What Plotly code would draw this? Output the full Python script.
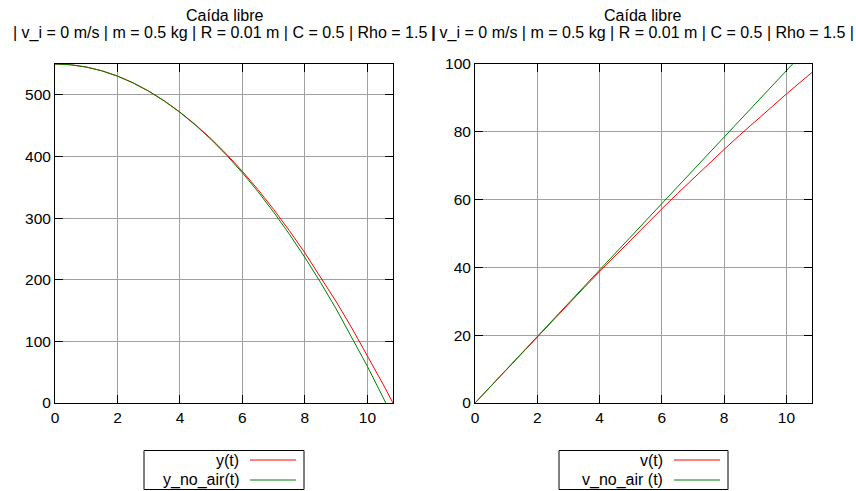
import plotly.graph_objects as go

# ---- data ----
t_y_air = [0, 0.5, 1, 1.5, 2, 2.5, 3, 3.5, 4, 4.5, 5, 5.5, 6, 6.5, 7, 7.5, 8, 8.5, 9, 9.5, 10, 10.5, 10.82]
y_air = [550, 548.77, 545.10, 538.97, 530.41, 519.42, 506.01, 490.20, 472.00, 451.44, 428.54, 403.32,
         375.81, 346.05, 314.06, 279.87, 243.52, 205.04, 164.48, 121.86, 77.2, 30.7, 0.0]

t_y_noair = [0, 0.5, 1, 1.5, 2, 2.5, 3, 3.5, 4, 4.5, 5, 5.5, 6, 6.5, 7, 7.5, 8, 8.5, 9, 9.5, 10, 10.5, 10.59]
y_noair = [550, 548.77, 545.10, 538.96, 530.38, 519.34, 505.86, 489.91, 471.52, 450.67, 427.38, 401.62,
           373.42, 342.76, 309.66, 274.09, 236.08, 195.62, 152.70, 107.33, 59.5, 9.24, 0.0]

t_v = [0, 0.5, 1, 1.5, 2, 2.5, 3, 3.5, 4, 4.5, 5, 5.5, 6, 6.5, 7, 7.5, 8, 8.5, 9, 9.5, 10, 10.5, 10.82]
v_air = [0, 4.90, 9.80, 14.69, 19.56, 24.41, 29.23, 34.01, 38.76, 43.47, 48.13, 52.73, 57.28, 61.77,
         66.19, 70.54, 74.82, 79.03, 83.16, 87.21, 91.17, 95.05, 97.50]
v_noair = [0, 4.91, 9.81, 14.72, 19.62, 24.53, 29.43, 34.34, 39.24, 44.15, 49.05, 53.96, 58.86, 63.77,
           68.67, 73.58, 78.48, 83.39, 88.29, 93.20, 98.1, 103.0, 106.1]

title_main = "Caída libre"
title_sub = "| v_i = 0 m/s | m = 0.5 kg | R = 0.01 m | C = 0.5 | Rho = 1.5 |"
legend_left = ["y(t)", "y_no_air(t)"]
legend_right = ["v(t)", "v_no_air (t)"]

RED = "#ff0000"
GREEN = "#008000"
W, H = 856, 491
FONT = "Liberation Sans, Arial, sans-serif"

# plotting region in pixels
L, R, T, B = 55, 812, 64, 403


def px(x):
    return (x - L) / (R - L)


def py(y):
    return (B - y) / (B - T)


fig = go.Figure()
fig.add_trace(go.Scatter(x=t_y_air, y=y_air, mode="lines", line=dict(color=RED, width=1),
                         xaxis="x", yaxis="y", showlegend=False))
fig.add_trace(go.Scatter(x=t_y_noair, y=y_noair, mode="lines", line=dict(color=GREEN, width=1),
                         xaxis="x", yaxis="y", showlegend=False))
fig.add_trace(go.Scatter(x=t_v, y=v_air, mode="lines", line=dict(color=RED, width=1),
                         xaxis="x2", yaxis="y2", showlegend=False))
fig.add_trace(go.Scatter(x=t_v, y=v_noair, mode="lines", line=dict(color=GREEN, width=1),
                         xaxis="x2", yaxis="y2", showlegend=False))

axcommon = dict(showline=True, linecolor="black", linewidth=1, mirror="allticks",
                ticks="inside", ticklen=8, tickcolor="black", tickwidth=1,
                showgrid=True, gridcolor="#a0a0a0", gridwidth=1, zeroline=False,
                automargin=False,
                tickfont=dict(family=FONT, size=15.5, color="black"))

fig.update_layout(
    width=W, height=H, margin=dict(l=L, r=W - R, t=T, b=H - B, autoexpand=False),
    paper_bgcolor="white", plot_bgcolor="white",
    xaxis=dict(domain=[px(55), px(393)], range=[0, 10.82], tick0=0, dtick=2, anchor="y", **axcommon),
    yaxis=dict(domain=[0, 1], range=[0, 550], tick0=0, dtick=100, anchor="x", **axcommon),
    xaxis2=dict(domain=[px(475), px(812)], range=[0, 10.82], tick0=0, dtick=2, anchor="y2", **axcommon),
    yaxis2=dict(domain=[0, 1], range=[0, 100], tick0=0, dtick=20, anchor="x2", **axcommon),
    showlegend=False,
)

annotations = []
shapes = []
for cx in (224, 642):
    annotations.append(dict(text=title_main, x=px(cx), y=py(15), xref="paper", yref="paper",
                            showarrow=False, xanchor="center", yanchor="middle",
                            font=dict(family=FONT, size=16, color="black")))
    annotations.append(dict(text=title_sub, x=px(cx), y=py(33), xref="paper", yref="paper",
                            showarrow=False, xanchor="center", yanchor="middle",
                            font=dict(family=FONT, size=16, color="black")))

for (bx0, bx1, tx, lx0, lx1, labels) in [(144, 304, 241, 250, 296, legend_left),
                                         (559, 728, 665, 674, 720, legend_right)]:
    shapes.append(dict(type="rect", xref="paper", yref="paper", x0=px(bx0), x1=px(bx1),
                       y0=py(489.5), y1=py(450.5), line=dict(color="black", width=1)))
    for lab, col, yy in zip(labels, (RED, GREEN), (460, 480)):
        annotations.append(dict(text=lab, x=px(tx), y=py(yy), xref="paper", yref="paper",
                                showarrow=False, xanchor="right", yanchor="middle",
                                font=dict(family=FONT, size=16, color="black")))
        shapes.append(dict(type="line", xref="paper", yref="paper", x0=px(lx0), x1=px(lx1),
                           y0=py(yy), y1=py(yy), line=dict(color=col, width=1)))

fig.update_layout(annotations=annotations, shapes=shapes)
fig.write_html("out.html", config={"displayModeBar": False},
               post_script="document.body.style.margin='0';document.body.style.overflow='hidden';")
